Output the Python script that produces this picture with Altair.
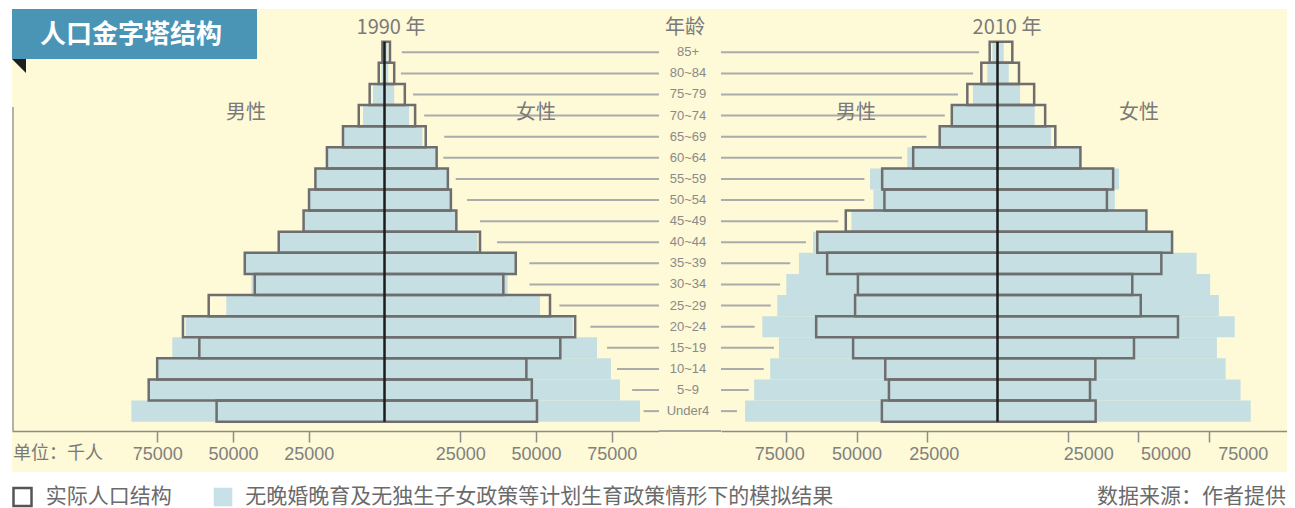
import altair as alt
import pandas as pd

# ---------------- data (thousands of people), rows listed top to bottom ----------------
ages = ["85+", "80~84", "75~79", "70~74", "65~69", "60~64", "55~59", "50~54", "45~49",
        "40~44", "35~39", "30~34", "25~29", "20~24", "15~19", "10~14", "5~9", "Under4"]

# 1990 actual population structure
male_1990 = [700, 1900, 4900, 8500, 13700, 19000, 22800, 24900, 26700,
             34900, 46100, 42800, 58000, 66500, 61100, 75000, 77800, 55400]
female_1990 = [1800, 3200, 6700, 10100, 13600, 17200, 20900, 21900, 23700,
               31500, 43300, 39200, 54600, 62900, 58000, 46800, 48600, 50300]
# 1990 simulated (no late-marriage / one-child policy)
sim_male_1990 = [500, 1050, 3800, 7100, 13600, 18900, 22700, 24800, 26600,
                 34800, 46000, 43900, 52200, 65600, 70000, 74900, 77700, 83500]
sim_female_1990 = [1000, 1250, 3200, 8100, 12500, 17000, 20800, 21800, 23600,
                   30700, 43200, 40600, 51300, 62100, 70100, 74700, 77700, 84300]
# where the 1990 label leader lines begin (female side)
lead_1990 = [5700, 5400, 9400, 13100, 19700, 19400, 23500, 27200, 31500,
             37100, 47800, 47800, 57700, 67900, 73400, 76700, 81700, 85500]

# 2010 actual population structure
male_2010 = [2770, 5740, 10700, 16200, 20500, 29900, 40900, 40100, 53800,
             63900, 60400, 49500, 50500, 64300, 51200, 39800, 38500, 41000]
female_2010 = [5250, 7620, 13000, 16900, 20500, 29400, 41000, 38800, 52800,
               61900, 58100, 47800, 50800, 64000, 48400, 34700, 32800, 34800]
# 2010 simulated
sim_male_2010 = [1800, 3600, 8700, 16100, 20400, 32000, 45200, 44000, 51800,
                 65400, 70400, 74900, 78100, 83400, 77500, 80600, 86300, 89500]
sim_female_2010 = [2200, 4000, 8000, 13200, 19000, 29300, 43100, 41600, 52300,
                   61600, 70600, 75400, 78500, 84100, 77800, 80900, 86200, 89800]
# where the 2010 label leader lines end (male side, magnitude)
lead_2010 = [6560, 8690, 14000, 18700, 25200, 33900, 47200, 47200, 56500,
             67900, 73500, 77100, 80400, 86100, 79300, 82900, 88200, 92400]

tick_values = [-75000, -50000, -25000, 25000, 50000, 75000]

n = len(ages)
df = pd.DataFrame({
    "age": ages,
    "idx": list(range(n - 1, -1, -1)),
    "m90": male_1990, "f90": female_1990, "sm90": sim_male_1990, "sf90": sim_female_1990,
    "lead90": lead_1990,
    "m10": male_2010, "f10": female_2010, "sm10": sim_male_2010, "sf10": sim_female_2010,
    "lead10": lead_2010,
})
center_df = pd.DataFrame({"zero": [0], "top": [n - 0.5], "bot": [-0.5]})
tick_df = pd.DataFrame({"v": tick_values})
one = pd.DataFrame({"k": [0]})

# ---------------- styling ----------------
YELLOW = "#fef9d6"
BLUE = "#c6dfe2"
OUTLINE = "#6e6e6e"
LEAD = "#ababab"
TXT = "#7a7a7a"
CJK = "Noto Sans CJK SC"
NUM = "Liberation Sans"

PANEL_H = 463
LEG_Y = 488
W_L, W_M, W_R = 647, 62, 566
L_DOM = [-122900, 90560]
R_DOM = [-98050, 102660]
R_LABEL_DOM = [-93850, 89320]   # the 2010 tick labels sit slightly off their ticks
yscale = alt.Scale(domain=[-2.883, 19.05], nice=False, zero=False)
LABEL_EXPR = "format(abs(datum.value), 'd')"
PAD = {"left": 0, "top": 1, "right": 0, "bottom": 0}


def x_axis(labels=True):
    return alt.Axis(values=tick_values, labelExpr=LABEL_EXPR, orient="bottom",
                    offset=-41, domainColor="#8c8c8c", domainWidth=1.5,
                    tickColor="#8c8c8c", tickWidth=1.5, tickSize=11, labels=labels,
                    labelFont=NUM, labelFontSize=18, labelColor="#808080",
                    labelPadding=3, grid=False, title=None, labelFlush=False)


def txt(s, x, y, size, color=TXT, font=CJK, align="center", weight="normal"):
    return alt.Chart(one).mark_text(
        text=s, font=font, fontSize=size, color=color, align=align,
        baseline="middle", fontWeight=weight
    ).encode(x=alt.value(x), y=alt.value(y))


def pyramid_layers(m, f, sm, sf, xdom, main_axis, other_axis):
    xs = alt.Scale(domain=xdom, nice=False, zero=False)
    base = alt.Chart(df).transform_calculate(
        y0="datum.idx - 0.5", y1="datum.idx + 0.5",
        nm=f"-datum.{m}", nsm=f"-datum.{sm}")
    sim = base.mark_rect(color=BLUE).encode(
        x=alt.X("nsm:Q", scale=xs, axis=main_axis), x2=alt.X2(f"{sf}:Q"),
        y=alt.Y("y0:Q", scale=yscale, axis=None), y2=alt.Y2("y1:Q"))
    act = base.mark_rect(filled=False, stroke=OUTLINE, strokeWidth=2.5).encode(
        x=alt.X("nm:Q", scale=xs, axis=other_axis), x2=alt.X2(f"{f}:Q"),
        y=alt.Y("y0:Q", scale=yscale, axis=None), y2=alt.Y2("y1:Q"))
    center = alt.Chart(center_df).mark_rule(color="#1c1c1c", strokeWidth=2.5).encode(
        x=alt.X("zero:Q", scale=xs, axis=other_axis),
        y=alt.Y("bot:Q", scale=yscale, axis=None), y2=alt.Y2("top:Q"))
    return xs, sim, act, center


# ---------------- left panel: 1990 ----------------
xsL, simL, actL, cenL = pyramid_layers("m90", "f90", "sm90", "sf90", L_DOM,
                                       x_axis(), x_axis())
leadL = alt.Chart(df).mark_rule(color=LEAD, strokeWidth=2).encode(
    x=alt.X("lead90:Q", scale=xsL, axis=x_axis()), x2=alt.value(W_L),
    y=alt.Y("idx:Q", scale=yscale, axis=None))

title_box = alt.Chart(one).mark_rect(color="#4a94b6").encode(
    x=alt.value(0), x2=alt.value(245), y=alt.value(0), y2=alt.value(50))
fold = alt.Chart(one).mark_point(shape="M-1,-1L1,-1L1,1Z", filled=True, color="#1e1e1e",
                                 size=196, opacity=1, strokeWidth=0).encode(
    x=alt.value(7), y=alt.value(57))
vline = alt.Chart(one).mark_rule(color="#9a9a9a", strokeWidth=1.5).encode(
    x=alt.value(1), y=alt.value(98), y2=alt.value(422))
leg_box = alt.Chart(one).mark_point(shape="square", filled=False, size=324,
                                    color="#555555", strokeWidth=2.5, opacity=1).encode(
    x=alt.value(10.5), y=alt.value(LEG_Y))
leg_blue = alt.Chart(one).mark_point(shape="square", filled=True, size=345,
                                     color="#c8e0e8", opacity=1, strokeWidth=0).encode(
    x=alt.value(211), y=alt.value(LEG_Y))

left = alt.layer(
    simL, actL, cenL, leadL,
    title_box,
    txt("人口金字塔结构", 119, 26, 26, color="white", weight="bold"),
    fold, vline,
    txt("1990 年", 379, 19, 20),
    txt("男性", 234, 104, 20),
    txt("女性", 524, 104, 20),
    txt("单位：千人", 1, 445, 18, align="left"),
    leg_box, leg_blue,
    txt("实际人口结构", 33.7, LEG_Y, 21, color="#6a6a6a", align="left"),
    txt("无晚婚晚育及无独生子女政策等计划生育政策情形下的模拟结果", 233.3, LEG_Y, 21,
        color="#6a6a6a", align="left"),
).properties(width=W_L, height=PANEL_H)

# ---------------- middle panel: age labels ----------------
age_text = alt.Chart(df).mark_text(font=NUM, fontSize=13, color="#8a8a8a",
                                   align="center", baseline="middle").encode(
    x=alt.value(29), y=alt.Y("idx:Q", scale=yscale, axis=None), text="age:N")
mid_axis = alt.Chart(one).mark_rule(color="#8c8c8c", strokeWidth=1.5).encode(
    x=alt.value(0), x2=alt.value(W_M), y=alt.value(422))
middle = alt.layer(
    age_text, mid_axis, txt("年龄", 26, 19, 20)
).properties(width=W_M, height=PANEL_H)

# ---------------- right panel: 2010 ----------------
xsR, simR, actR, cenR = pyramid_layers("m10", "f10", "sm10", "sf10", R_DOM,
                                       x_axis(labels=False), None)
leadR = alt.Chart(df).transform_calculate(nlead="-datum.lead10").mark_rule(
    color=LEAD, strokeWidth=2).encode(
    x=alt.X("nlead:Q", scale=xsR, axis=None), x2=alt.value(0),
    y=alt.Y("idx:Q", scale=yscale, axis=None))
label_axis = alt.Axis(values=tick_values, labelExpr=LABEL_EXPR, orient="bottom",
                      offset=-41, domain=False, ticks=False, labelPadding=14,
                      labelFont=NUM, labelFontSize=18, labelColor="#808080",
                      grid=False, title=None, labelFlush=False)
labelsR = alt.Chart(tick_df).mark_point(opacity=0, size=0, strokeWidth=0).encode(
    x=alt.X("v:Q", scale=alt.Scale(domain=R_LABEL_DOM, nice=False, zero=False),
            axis=label_axis),
    y=alt.value(200))

right = alt.layer(
    simR, actR, cenR, leadR, labelsR,
    txt("2010 年", 286, 19, 20),
    txt("男性", 135, 104, 20),
    txt("女性", 418, 104, 20),
    txt("数据来源：作者提供", W_R - 1, LEG_Y, 21, color="#6a6a6a", align="right"),
).resolve_scale(x="independent").properties(width=W_R, height=PANEL_H)

chart = alt.hconcat(left, middle, right, spacing=0, bounds="flush").resolve_scale(
    x="independent", y="independent"
).configure(padding=PAD).configure_view(stroke=None, fill=YELLOW).properties(
    padding=PAD, background="white")

chart.save("out.html", embed_options={"renderer": "svg", "actions": False})
